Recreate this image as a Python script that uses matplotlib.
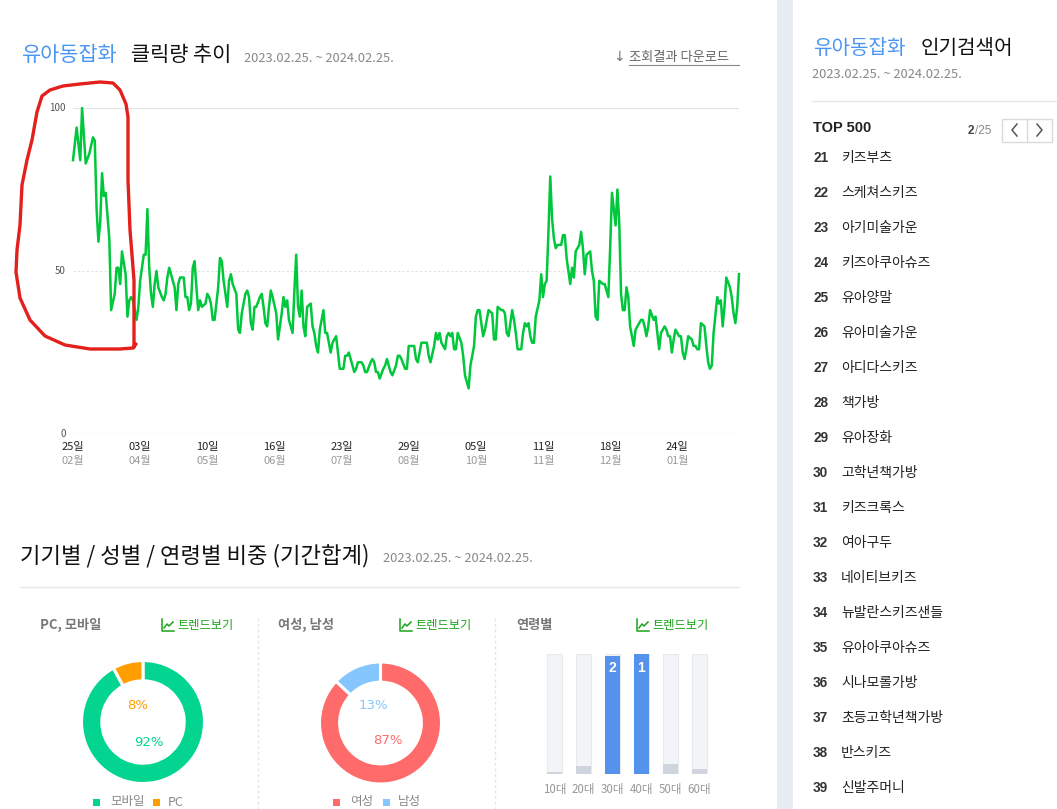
import datetime as dt
import numpy as np
import matplotlib
matplotlib.use("Agg")
import matplotlib.pyplot as plt
from matplotlib.patches import Rectangle
from matplotlib.lines import Line2D
import matplotlib.transforms as mtransforms

plt.rcParams['font.family'] = ['Noto Sans CJK KR', 'DejaVu Sans']

# ---- data -------------------------------------------------------------
start = dt.date(2023, 2, 25)
# day offset from 2023-02-25 / relative click index
day_idx = [0, 2, 4, 5, 7, 9, 11, 12, 13, 14, 15, 16, 17, 18, 20, 21, 23, 24, 25, 26,
           27, 29, 30, 31, 32, 33, 35, 36, 37, 39, 40, 41, 42, 43, 44, 45, 46, 47, 49, 50,
           51, 52, 53, 55, 56, 57, 58, 59, 61, 62, 63, 64, 65, 66, 67, 68, 69, 70, 71, 73,
           74, 75, 76, 77, 78, 80, 81, 82, 83, 85, 86, 87, 88, 90, 91, 92, 93, 95, 96, 97,
           98, 99, 100, 101, 103, 104, 105, 106, 107, 108, 109, 110, 112, 113, 115, 116, 117, 118, 119, 120,
           121, 122, 123, 124, 125, 126, 127, 128, 129, 131, 132, 133, 134, 135, 136, 137, 138, 139, 140, 142,
           143, 145, 146, 147, 149, 150, 151, 152, 154, 155, 156, 157, 159, 160, 161, 162, 164, 165, 166, 167,
           168, 169, 171, 172, 173, 174, 175, 176, 178, 179, 180, 181, 183, 184, 185, 187, 188, 189, 190, 191,
           192, 194, 195, 196, 197, 199, 200, 201, 202, 203, 205, 206, 207, 208, 209, 210, 211, 212, 214, 215,
           216, 217, 218, 219, 221, 222, 223, 224, 225, 226, 227, 228, 229, 231, 232, 233, 234, 236, 237, 238,
           239, 240, 242, 243, 244, 245, 247, 248, 249, 250, 251, 252, 253, 254, 255, 257, 258, 259, 260, 261,
           262, 263, 264, 265, 266, 267, 269, 270, 271, 272, 274, 275, 276, 277, 278, 279, 280, 281, 282, 283,
           285, 286, 287, 288, 289, 290, 292, 293, 294, 295, 296, 297, 299, 300, 301, 302, 303, 304, 305, 306,
           307, 308, 309, 310, 311, 313, 314, 315, 316, 317, 318, 320, 321, 322, 323, 324, 326, 327, 328, 329,
           330, 331, 332, 334, 335, 336, 337, 338, 339, 341, 342, 343, 344, 345, 346, 348, 349, 350, 351, 352,
           353, 355, 356, 357, 358, 359, 360, 362, 363, 364, 365, 366, 367]
clicks = [84, 94, 84, 100, 83, 86, 91, 90, 69, 59, 65, 80, 73, 74, 60, 38, 43, 51, 51, 46,
          56, 49, 36, 41, 42, 41, 35, 39, 47, 55, 55, 69, 51, 43, 39, 46, 50, 45, 42, 41,
          43, 48, 51, 47, 45, 38, 46, 48, 48, 42, 42, 38, 40, 51, 53, 45, 38, 41, 39, 40,
          43, 42, 40, 35, 35, 45, 54, 53, 47, 39, 47, 49, 46, 43, 32, 31, 37, 43, 44, 42,
          34, 32, 39, 39, 42, 43, 39, 34, 33, 39, 44, 42, 37, 29, 37, 42, 39, 41, 35, 33,
          31, 44, 55, 39, 36, 44, 33, 30, 39, 40, 33, 31, 27, 25, 32, 35, 38, 31, 31, 25,
          28, 30, 25, 20, 20, 24, 24, 25, 21, 19, 20, 22, 22, 21, 19, 19, 22, 23, 22, 19,
          19, 17, 20, 21, 23, 21, 19, 18, 21, 24, 24, 23, 20, 20, 27, 27, 27, 23, 22, 25,
          28, 28, 28, 24, 22, 27, 31, 29, 31, 28, 26, 30, 31, 30, 31, 26, 26, 31, 28, 24,
          18, 16, 14, 21, 27, 36, 38, 38, 34, 30, 32, 35, 38, 37, 29, 29, 39, 38, 38, 37,
          31, 30, 38, 35, 31, 26, 26, 31, 34, 33, 34, 30, 28, 28, 36, 41, 49, 42, 46, 47,
          62, 79, 66, 60, 57, 58, 58, 61, 61, 54, 46, 51, 48, 56, 57, 58, 62, 57, 49, 55,
          56, 50, 47, 36, 35, 47, 46, 46, 44, 42, 57, 74, 64, 75, 65, 43, 38, 38, 45, 42,
          33, 30, 27, 32, 33, 35, 35, 33, 30, 33, 38, 35, 36, 31, 26, 31, 33, 32, 30, 30,
          25, 29, 32, 30, 30, 25, 23, 26, 30, 29, 27, 27, 26, 26, 34, 33, 27, 22, 20, 21,
          31, 42, 40, 41, 33, 39, 48, 45, 42, 37, 34, 39, 49]

tick_dates = [dt.date(2023, 2, 25), dt.date(2023, 4, 3), dt.date(2023, 5, 10), dt.date(2023, 6, 16),
              dt.date(2023, 7, 23), dt.date(2023, 8, 29), dt.date(2023, 10, 5), dt.date(2023, 11, 11),
              dt.date(2023, 12, 18), dt.date(2024, 1, 24)]
tick_days = ["25일", "03일", "10일", "16일", "23일", "29일", "05일", "11일", "18일", "24일"]
tick_months = ["02월", "04월", "05월", "06월", "07월", "08월", "10월", "11월", "12월", "01월"]

device_labels = ["모바일", "PC"]
device_share = [92, 8]
gender_labels = ["여성", "남성"]
gender_share = [87, 13]
age_labels = ["10대", "20대", "30대", "40대", "50대", "60대"]
age_rel = [2, 7, 98, 100, 8, 4]

rank_no = list(range(21, 40))
keywords = ["키즈부츠", "스케쳐스키즈", "아기미술가운", "키즈아쿠아슈즈", "유아양말", "유아미술가운",
            "아디다스키즈", "책가방", "유아장화", "고학년책가방", "키즈크록스", "여아구두", "네이티브키즈",
            "뉴발란스키즈샌들", "유아아쿠아슈즈", "시나모롤가방", "초등고학년책가방", "반스키즈", "신발주머니"]

# ---- figure helpers ---------------------------------------------------
W, H = 1057, 809
fig = plt.figure(figsize=(W / 100, H / 100), dpi=100)
fig.patch.set_facecolor("white")


def fx(x):
    return x / W


def fy(y):
    return 1 - y / H


def txt(x, y, s, **kw):
    kw.setdefault("va", "center")
    return fig.text(fx(x), fy(y), s, **kw)


def hline(x0, x1, y, **kw):
    fig.add_artist(Line2D([fx(x0), fx(x1)], [fy(y), fy(y)], **kw))


def vline(x, y0, y1, **kw):
    fig.add_artist(Line2D([fx(x), fx(x)], [fy(y0), fy(y1)], **kw))


def trend_link(x, y):
    # small chart icon + label
    c = "#1aa31a"
    fig.add_artist(Line2D([fx(x), fx(x), fx(x + 12)], [fy(y - 6), fy(y + 6), fy(y + 6)], color=c, lw=1.1))
    fig.add_artist(Line2D([fx(x + 2), fx(x + 5), fx(x + 7), fx(x + 11)],
                          [fy(y + 3), fy(y - 1), fy(y + 1), fy(y - 3)], color=c, lw=1.1))
    txt(x + 15, y, "트렌드보기", fontsize=8.8, color=c)


blue = "#4b96f3"
gray_txt = "#888888"
latin = ["Liberation Sans", "DejaVu Sans"]

# ---- right side panel -------------------------------------------------
fig.add_artist(Rectangle((fx(777), 0), fx(16), 1, color="#e9ecf4", lw=0))
txt(813, 48, "유아동잡화", fontsize=14.5, color=blue)
txt(921, 48, "인기검색어", fontsize=14.5, color="#111111")
txt(812, 75, "2023.02.25. ~ 2024.02.25.", fontsize=9.3, color=gray_txt)
hline(812, 1057, 101, color="#e9e9e9", lw=1)
txt(813, 128, "TOP 500", fontsize=10.5, fontweight="bold", color="#222222", family=latin)
txt(968, 131, "2", fontsize=8.5, fontweight="bold", color="#444444", family=latin)
txt(975, 131, "/25", fontsize=8.5, color="#888888", family=latin)
fig.add_artist(Rectangle((fx(1002), fy(142)), fx(50), 23 / H, fill=False, edgecolor="#d9dbe0", lw=1))
vline(1027, 119, 142, color="#d9dbe0", lw=1)
fig.add_artist(Line2D([fx(1017), fx(1012), fx(1017)], [fy(124), fy(130), fy(136)], color="#555555", lw=1.1))
fig.add_artist(Line2D([fx(1037), fx(1042), fx(1037)], [fy(124), fy(130), fy(136)], color="#555555", lw=1.1))

for i, (n, kw_) in enumerate(zip(rank_no, keywords)):
    y = 158 + 35 * i
    txt(813, y, str(n), fontsize=9.8, fontweight="bold", color="#333333", family=latin)
    txt(841, y, kw_, fontsize=10, color="#222222")

# ---- click trend line chart ------------------------------------------
txt(22, 55, "유아동잡화", fontsize=15, color=blue)
txt(131, 55, "클릭량 추이", fontsize=15, color="#111111")
txt(244, 58, "2023.02.25. ~ 2024.02.25.", fontsize=9.3, color=gray_txt)
txt(613, 57, "↓", fontsize=10, color="#777777", family=["DejaVu Sans"])
txt(629, 57, "조회결과 다운로드", fontsize=9.5, color="#666666")
hline(629, 739, 65, color="#888888", lw=0.8)

ax = fig.add_axes([fx(73), fy(434), (739 - 73) / W, (434 - 108) / H])
ax.set_xlim(0, day_idx[-1])
ax.set_ylim(0, 100)
for s in ax.spines.values():
    s.set_visible(False)
ax.set_xticks([])
ax.set_yticks([])
ax.patch.set_alpha(0)
ax.axhline(100, color="#e6e6e6", lw=1)
ax.axhline(50, color="#e2e2e2", lw=0.8, ls=(0, (2, 2)))
ax.axhline(0, color="#eeeeee", lw=1)
for v in [100, 50, 0]:
    ax.text(-4, v, str(v), ha="right", va="center", fontsize=7, color="#555555")
ax.plot(day_idx, clicks, color="#00c73c", lw=1.8, solid_joinstyle="round", clip_on=False)

trans = mtransforms.blended_transform_factory(ax.transData, fig.transFigure)
for d, dl, ml in zip(tick_dates, tick_days, tick_months):
    off = (d - start).days
    ax.text(off, fy(447), dl, ha="center", va="center", fontsize=8, color="#222222", transform=trans)
    ax.text(off, fy(461), ml, ha="center", va="center", fontsize=8, color="#999999", transform=trans)

# hand-drawn red mark around the start of the series
red_x = [136, 133, 120, 90, 65, 45, 30, 20, 16, 17, 20, 22, 27, 32, 37, 42, 50, 63, 80, 100,
         113, 120, 126, 128, 128, 130, 132, 134, 134, 134]
red_y = [344, 348, 349, 349, 345, 336, 320, 298, 272, 250, 225, 185, 160, 140, 112, 96, 90, 86, 84, 82,
         83, 90, 104, 117, 180, 230, 255, 280, 330, 347]
fig.add_artist(Line2D([fx(v) for v in red_x], [fy(v) for v in red_y], color="#e3201b", lw=2.4,
                      solid_joinstyle="round", solid_capstyle="round"))

# ---- share section ---------------------------------------------------
txt(20, 556, "기기별 / 성별 / 연령별 비중 (기간합계)", fontsize=16, color="#111111")
txt(383, 559, "2023.02.25. ~ 2024.02.25.", fontsize=9.3, color=gray_txt)
hline(20, 739, 587, color="#eaeaea", lw=1)

txt(40, 625, "PC, 모바일", fontsize=9.5, fontweight="bold", color="#777777")
trend_link(162, 625)
txt(278, 625, "여성, 남성", fontsize=9.5, fontweight="bold", color="#777777")
trend_link(400, 625)
txt(516, 625, "연령별", fontsize=9.5, fontweight="bold", color="#777777")
trend_link(637, 625)
vline(258, 618, 809, color="#e4e4e4", lw=1, ls=(0, (2, 2)))
vline(495, 618, 809, color="#e4e4e4", lw=1, ls=(0, (2, 2)))


def donut(cx, cy, r, shares, colors, pos_labels):
    a = fig.add_axes([fx(cx - r), fy(cy + r), 2 * r / W, 2 * r / H])
    a.pie(shares, colors=colors, startangle=90, counterclock=False, radius=1,
          wedgeprops=dict(width=0.33, edgecolor="white", linewidth=2.2))
    a.set_xlim(-1, 1)
    a.set_ylim(-1, 1)
    a.axis("off")
    for (lx, ly), s, c in zip(pos_labels, shares, colors):
        a.text(lx, ly, f"{s}%", ha="center", va="center", fontsize=9.5, color=c, family=["DejaVu Sans"])
    return a


dev_colors = ["#03d591", "#ff9e00"]
gen_colors = ["#ff6b6b", "#86c6ff"]
donut(143, 722, 61.5, device_share, dev_colors, [(0.09, -0.33), (-0.08, 0.27)])
donut(380.5, 723, 61, gender_share, gen_colors, [(0.12, -0.28), (-0.12, 0.28)])


def legend(items, colors, xs):
    for (sx, tx), lab, c in zip(xs, items, colors):
        fig.add_artist(Rectangle((fx(sx), fy(806)), 7 / W, 7 / H, color=c, lw=0))
        txt(tx, 802, lab, fontsize=9, color="#888888")


legend(device_labels, dev_colors, [(93, 110), (153, 168)])
legend(gender_labels, gen_colors, [(333, 350), (383, 398)])

# age bars
bx = fig.add_axes([fx(540), fy(774), (714 - 540) / W, 120 / H])
xs = np.arange(len(age_labels))
bx.bar(xs, [100] * len(xs), width=15 / 29, color="#f3f4f7", edgecolor="#e7e9ed", lw=0.8, zorder=1)
order = np.argsort(age_rel)[::-1]
bar_colors = ["#cfd4df"] * len(xs)
for rank, i in enumerate(order[:2]):
    bar_colors[i] = "#5592ec"
    bx.text(i, 88, str(rank + 1), ha="center", va="center", fontsize=10, fontweight="bold",
            color="white", family=latin, zorder=4)
bx.bar(xs, age_rel, width=15 / 29, color=bar_colors, lw=0, zorder=2)
bx.set_xlim(-0.5, 5.5)
bx.set_ylim(0, 100)
bx.axis("off")
for i, lab in enumerate(age_labels):
    bx.text(i, fy(790), lab, ha="center", va="center", fontsize=8.3, color="#999999",
            transform=mtransforms.blended_transform_factory(bx.transData, fig.transFigure))

fig.savefig("out.png", dpi=100, facecolor="white")
